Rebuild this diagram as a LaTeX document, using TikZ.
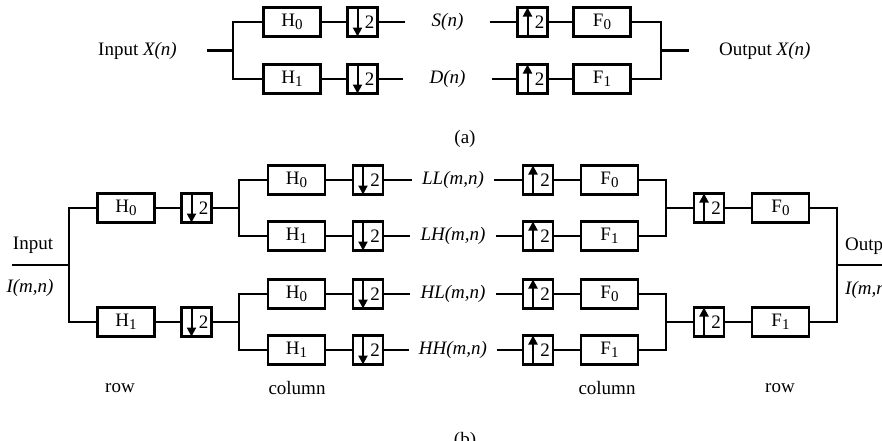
\documentclass[tikz,border=0pt]{standalone}
\usepackage{fontspec}
\setmainfont{Liberation Serif}
\usetikzlibrary{arrows.meta,positioning,calc}
\newcommand{\bkfont}{\fontsize{19}{22}\selectfont}
\newcommand{\flt}[2]{#1\raisebox{-0.4ex}{\fontsize{15}{15}\selectfont #2}}
\newcommand{\two}{\hspace*{14pt}2}
\tikzset{
  filtBox/.style={draw, line width=2.6pt, minimum width=57pt, minimum height=29pt, inner sep=0pt, outer sep=0pt, font=\bkfont},
  rateBox/.style={draw, line width=2.6pt, minimum width=30pt, minimum height=29pt, inner sep=0pt, outer sep=0pt, font=\bkfont},
  downBox/.style={rateBox, path picture={\draw[line width=2pt, -{Triangle[length=9pt,width=9pt]}] ([xshift=-5pt]path picture bounding box.north) -- ([xshift=-5pt]path picture bounding box.south);}},
  upBox/.style={rateBox, path picture={\draw[line width=2pt, -{Triangle[length=9pt,width=9pt]}] ([xshift=-5pt]path picture bounding box.south) -- ([xshift=-5pt]path picture bounding box.north);}},
  sigLabel/.style={font=\bkfont\itshape, inner xsep=10pt, inner ysep=2pt},
  textLabel/.style={font=\bkfont, inner sep=2pt},
  wire/.style={line width=2.4pt}
}

\begin{document}
\begin{tikzpicture}[x=1pt, y=-1pt]
  \useasboundingbox (0,0) rectangle (882,440);

  % (a)
  \coordinate (splitA) at (233,50.5);
  \node[filtBox] (h0A) at (292,22) {\flt{H}{0}};
  \node[filtBox, below=28pt of h0A] (h1A) {\flt{H}{1}};
  \node[downBox, right=27pt of h0A] (dn0A) {\two};
  \node[downBox, right=27pt of h1A] (dn1A) {\two};
  \node[upBox, right=140pt of dn0A] (up0A) {\two};
  \node[upBox, right=140pt of dn1A] (up1A) {\two};
  \node[sigLabel, inner xsep=26pt] (sA) at ($(dn0A.east)!0.5!(up0A.west)$) {S(n)};
  \node[sigLabel, inner xsep=26pt] (dA) at ($(dn1A.east)!0.5!(up1A.west)$) {D(n)};
  \node[filtBox, right=26pt of up0A] (f0A) {\flt{F}{0}};
  \node[filtBox, right=26pt of up1A] (f1A) {\flt{F}{1}};
  \coordinate (mergeA) at (661,50.5);
  \node[textLabel, inner xsep=30pt, left=26pt of splitA] (inA) {Input \textit{X(n)}};
  \node[textLabel, inner xsep=30pt, right=28pt of mergeA] (outA) {Output \textit{X(n)}};
  \node[textLabel] (capA) at (465,139) {(a)};

  \draw[wire] (inA) -- (splitA);
  \draw[wire] (h0A.west) -| (splitA) |- (h1A.west);
  \draw[wire] (h0A) -- (dn0A);
  \draw[wire] (h1A) -- (dn1A);
  \draw[wire] (dn0A) -- (sA);
  \draw[wire] (dn1A) -- (dA);
  \draw[wire] (sA) -- (up0A);
  \draw[wire] (dA) -- (up1A);
  \draw[wire] (up0A) -- (f0A);
  \draw[wire] (up1A) -- (f1A);
  \draw[wire] (f0A.east) -| (mergeA) |- (f1A.east);
  \draw[wire] (mergeA) -- (outA);

  % (b)
  \coordinate (inEndB) at (12,265);
  \coordinate (splitIn) at (69,265);
  \coordinate (splitTop) at (239,208);
  \coordinate (splitBot) at (239,322);
  \coordinate (mergeTop) at (666,208);
  \coordinate (mergeBot) at (666,322);
  \coordinate (mergeOut) at (837,265);
  \coordinate (outEndB) at (882,265);

  \node[filtBox] (rowH0) at (126,208) {\flt{H}{0}};
  \node[filtBox, below=85pt of rowH0] (rowH1) {\flt{H}{1}};
  \node[downBox, right=27pt of rowH0] (rowDn0) {\two};
  \node[downBox, right=27pt of rowH1] (rowDn1) {\two};

  \node[filtBox] (colH0) at (296.5,180) {\flt{H}{0}};
  \node[filtBox, below=27pt of colH0] (colH1) {\flt{H}{1}};
  \node[filtBox, below=29pt of colH1] (colH2) {\flt{H}{0}};
  \node[filtBox, below=27pt of colH2] (colH3) {\flt{H}{1}};
  \node[downBox, right=28pt of colH0] (colDn0) {\two};
  \node[downBox, right=28pt of colH1] (colDn1) {\two};
  \node[downBox, right=28pt of colH2] (colDn2) {\two};
  \node[downBox, right=28pt of colH3] (colDn3) {\two};
  \node[upBox, right=140pt of colDn0] (colUp0) {\two};
  \node[upBox, right=140pt of colDn1] (colUp1) {\two};
  \node[upBox, right=140pt of colDn2] (colUp2) {\two};
  \node[upBox, right=140pt of colDn3] (colUp3) {\two};
  \node[sigLabel] (llB) at ($(colDn0.east)!0.5!(colUp0.west)$) {LL(m,n)};
  \node[sigLabel] (lhB) at ($(colDn1.east)!0.5!(colUp1.west)$) {LH(m,n)};
  \node[sigLabel] (hlB) at ($(colDn2.east)!0.5!(colUp2.west)$) {HL(m,n)};
  \node[sigLabel] (hhB) at ($(colDn3.east)!0.5!(colUp3.west)$) {HH(m,n)};
  \node[filtBox, right=28pt of colUp0] (colF0) {\flt{F}{0}};
  \node[filtBox, right=28pt of colUp1] (colF1) {\flt{F}{1}};
  \node[filtBox, right=28pt of colUp2] (colF2) {\flt{F}{0}};
  \node[filtBox, right=28pt of colUp3] (colF3) {\flt{F}{1}};

  \node[upBox, right=28pt of mergeTop] (rowUp0) {\two};
  \node[upBox, right=28pt of mergeBot] (rowUp1) {\two};
  \node[filtBox, right=28pt of rowUp0] (rowF0) {\flt{F}{0}};
  \node[filtBox, right=28pt of rowUp1] (rowF1) {\flt{F}{1}};

  \node[textLabel] (inB) at (33,245) {Input};
  \node[textLabel] (inSigB) at (30,288) {\textit{I(m,n)}};
  \node[textLabel, anchor=west] (outB) at (843,246) {Output};
  \node[textLabel, anchor=west] (outSigB) at (843,290) {\textit{I(m,n)}};
  \node[textLabel] (rowL) at (120,388) {row};
  \node[textLabel] (colL) at (297,388) {column};
  \node[textLabel] (colR) at (607,388) {column};
  \node[textLabel] (rowR) at (780,388) {row};
  \node[textLabel] (capB) at (465,441) {(b)};

  \draw[wire] (inEndB) -- (splitIn);
  \draw[wire] (rowH0.west) -| (splitIn) |- (rowH1.west);
  \draw[wire] (rowH0) -- (rowDn0);
  \draw[wire] (rowH1) -- (rowDn1);
  \draw[wire] (rowDn0) -- (splitTop);
  \draw[wire] (rowDn1) -- (splitBot);
  \draw[wire] (colH0.west) -| (splitTop) |- (colH1.west);
  \draw[wire] (colH2.west) -| (splitBot) |- (colH3.west);
  \draw[wire] (colH0) -- (colDn0);
  \draw[wire] (colH1) -- (colDn1);
  \draw[wire] (colH2) -- (colDn2);
  \draw[wire] (colH3) -- (colDn3);
  \draw[wire] (colDn0) -- (llB);
  \draw[wire] (colDn1) -- (lhB);
  \draw[wire] (colDn2) -- (hlB);
  \draw[wire] (colDn3) -- (hhB);
  \draw[wire] (llB) -- (colUp0);
  \draw[wire] (lhB) -- (colUp1);
  \draw[wire] (hlB) -- (colUp2);
  \draw[wire] (hhB) -- (colUp3);
  \draw[wire] (colUp0) -- (colF0);
  \draw[wire] (colUp1) -- (colF1);
  \draw[wire] (colUp2) -- (colF2);
  \draw[wire] (colUp3) -- (colF3);
  \draw[wire] (colF0.east) -| (mergeTop) |- (colF1.east);
  \draw[wire] (colF2.east) -| (mergeBot) |- (colF3.east);
  \draw[wire] (mergeTop) -- (rowUp0);
  \draw[wire] (mergeBot) -- (rowUp1);
  \draw[wire] (rowUp0) -- (rowF0);
  \draw[wire] (rowUp1) -- (rowF1);
  \draw[wire] (rowF0.east) -| (mergeOut) |- (rowF1.east);
  \draw[wire] (mergeOut) -- (outEndB);
\end{tikzpicture}
\end{document}
